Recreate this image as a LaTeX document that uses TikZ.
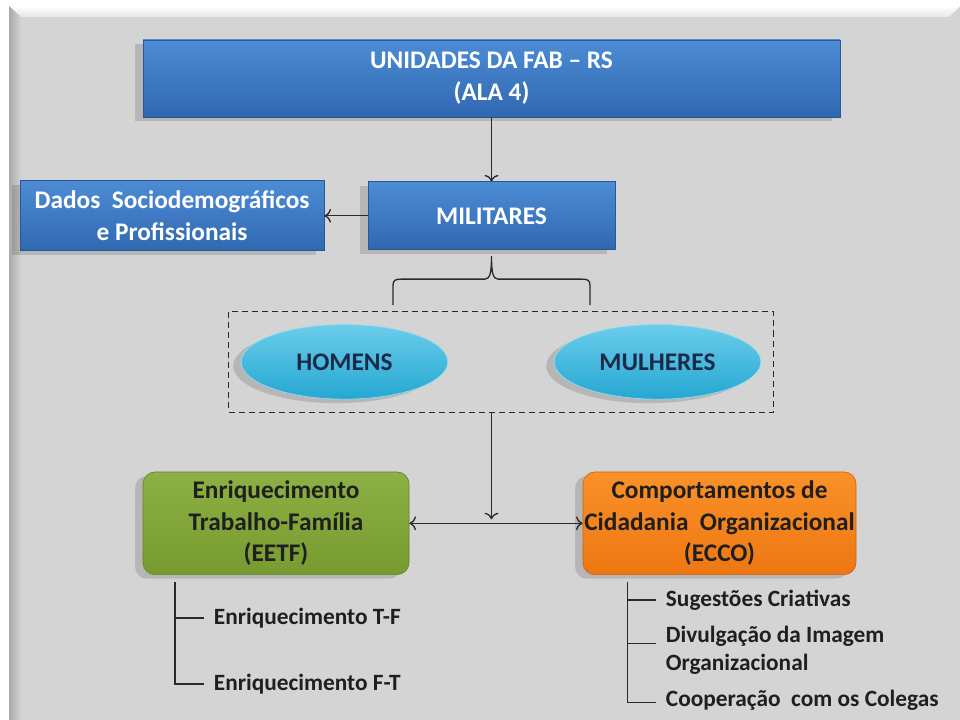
\documentclass[tikz,border=0pt]{standalone}
\usepackage{fontspec}
\setmainfont{Carlito}
\usetikzlibrary{shapes, arrows, arrows.meta, positioning, shadows, fit, calc}

\definecolor{painel}{HTML}{D4D4D4}
\definecolor{azulA}{HTML}{4C8CD5}
\definecolor{azulB}{HTML}{3068B0}
\definecolor{cianoA}{HTML}{6CCDEB}
\definecolor{cianoB}{HTML}{25A7D2}
\definecolor{verdeA}{HTML}{8DB044}
\definecolor{verdeB}{HTML}{779B30}
\definecolor{laranjaA}{HTML}{FA9128}
\definecolor{laranjaB}{HTML}{EE7712}
\definecolor{marinho}{HTML}{1A2A48}
\definecolor{linha}{HTML}{2A2A2A}

\begin{document}
\begin{tikzpicture}[x=0.75pt, y=-0.75pt, on grid,
    sombra/.style={drop shadow={shadow xshift=-6pt, shadow yshift=-3pt, opacity=.14, fill=black}},
    caixa/.style={rectangle, draw=azulB!85!black, line width=.5pt, top color=azulA, bottom color=azulB,
      text=white, align=center, sombra, font=\bfseries\fontsize{19}{24}\selectfont},
    oval/.style={ellipse, draw=cianoA!70!white, line width=.5pt, top color=cianoA, bottom color=cianoB,
      text=marinho, minimum width=155pt, minimum height=56pt, inner sep=0pt, sombra,
      font=\bfseries\fontsize{19}{24}\selectfont},
    bloco/.style={rectangle, rounded corners=9pt, line width=.5pt, align=center, sombra,
      minimum height=77pt, inner sep=0pt, font=\bfseries\fontsize{19}{23.6}\selectfont},
    item/.style={inner sep=0pt, align=left, text=black!88, font=\bfseries\fontsize{17.5}{21}\selectfont},
    seta/.style={->, >={To[scale=1.3]}, line width=1pt, draw=linha},
    ramo/.style={line width=1.2pt, draw=linha},
    grupo/.style={draw=linha, line width=.8pt, dash pattern=on 4.5pt off 3pt, inner xsep=9pt, inner ysep=9.5pt}]

  % fundo
  \useasboundingbox (0,0) rectangle (960,720);
  \fill[white] (0,0) rectangle (960,720);
  \fill[painel] (9,6) rectangle (960,720);
  \shade[top color=white, bottom color=painel!60!white] (9,6) -- (960,6) -- (949,17) -- (21,17) -- cycle;
  \shade[left color=painel!80!black, right color=painel] (9,6) -- (21,17) -- (21,720) -- (9,720) -- cycle;

  % caixas
  \node[caixa, minimum width=522.75pt, minimum height=57.75pt] (unid) at (491.5,78.5)
    {UNIDADES DA FAB -- RS\\(ALA 4)};
  \node[caixa, minimum width=185.25pt, minimum height=51pt] (mil) [below=103pt of unid] {MILITARES};
  \node[caixa, minimum width=228pt, minimum height=52.5pt] (dados) [left=239.6pt of mil]
    {Dados\ \ Sociodemográficos\\e Profissionais};

  \node[oval] (homens) [below left=109.5pt and 110.25pt of mil] {HOMENS};
  \node[oval] (mulheres) [right=234.75pt of homens] {MULHERES};
  \node[grupo, fit=(homens)(mulheres)] (grp) {};

  \node[bloco, draw=verdeB!85!black, top color=verdeA, bottom color=verdeB, text=black!88,
    minimum width=199.5pt] (eetf) [below left=230.6pt and 161.6pt of mil]
    {Enriquecimento\\Trabalho-Família\\(EETF)};
  \node[bloco, draw=laranjaB!85!black, top color=laranjaA, bottom color=laranjaB, text=black!88,
    minimum width=204.75pt] (ecco) [right=332.6pt of eetf]
    {Comportamentos de\\Cidadania\ \ Organizacional\\(ECCO)};

  % itens
  \node[item, anchor=west] (tf) at ($(eetf.south west)+(53.25pt,-32.25pt)$) {Enriquecimento T-F};
  \node[item, below=49.5pt of tf.west, anchor=west] (ft) {Enriquecimento F-T};
  \node[item, anchor=west] (sug) at ($(ecco.south west)+(62.25pt,-18.75pt)$) {Sugestões Criativas};
  \node[item, below=37.5pt of sug.west, anchor=west] (div) {Divulgação da Imagem\\Organizacional};
  \node[item, below=75pt of sug.west, anchor=west] (coop) {Cooperação\ \ com os Colegas};

  % chave
  \coordinate (chave) at ($(mil.south)+(0,-4.5pt)$);
  \draw[ramo, line width=1pt, shift={(chave)}]
    (-73.9pt,-36.75pt) -- (-73.9pt,-22pt) .. controls (-73.9pt,-18pt) and (-72pt,-17.25pt) .. (-68pt,-17.25pt)
    -- (-5pt,-17.25pt) .. controls (-1pt,-17.25pt) and (0pt,-12pt) .. (0pt,0pt)
    .. controls (0pt,-12pt) and (1pt,-17.25pt) .. (5pt,-17.25pt)
    -- (68pt,-17.25pt) .. controls (72pt,-17.25pt) and (73.9pt,-18pt) .. (73.9pt,-22pt) -- (73.9pt,-36.75pt);

  % conexoes
  \coordinate (cruz) at (mil.south |- eetf.east);
  \draw[seta] (unid) -- (mil);
  \draw[seta] (mil) -- (dados);
  \draw[seta] (grp.south -| cruz) -- ([yshift=3pt]cruz);
  \draw[seta, <->] (eetf) -- (ecco);

  \coordinate (tronco1) at ($(eetf.south west)+(24pt,-5.25pt)$);
  \draw[ramo] (tronco1) |- ([xshift=-7pt]ft.west);
  \draw[ramo] (tronco1 |- tf.west) -- ([xshift=-7pt]tf.west);
  \coordinate (tronco2) at ($(ecco.south west)+(33.75pt,-5.25pt)$);
  \draw[ramo] (tronco2) |- ([xshift=-7pt,yshift=-2pt]coop.west);
  \draw[ramo] (tronco2 |- sug.west) -- ([xshift=-7pt]sug.west);
  \draw[ramo] (tronco2 |- div.west) ++(0,5pt) -- ([xshift=-7pt,yshift=5pt]div.west);
\end{tikzpicture}
\end{document}
